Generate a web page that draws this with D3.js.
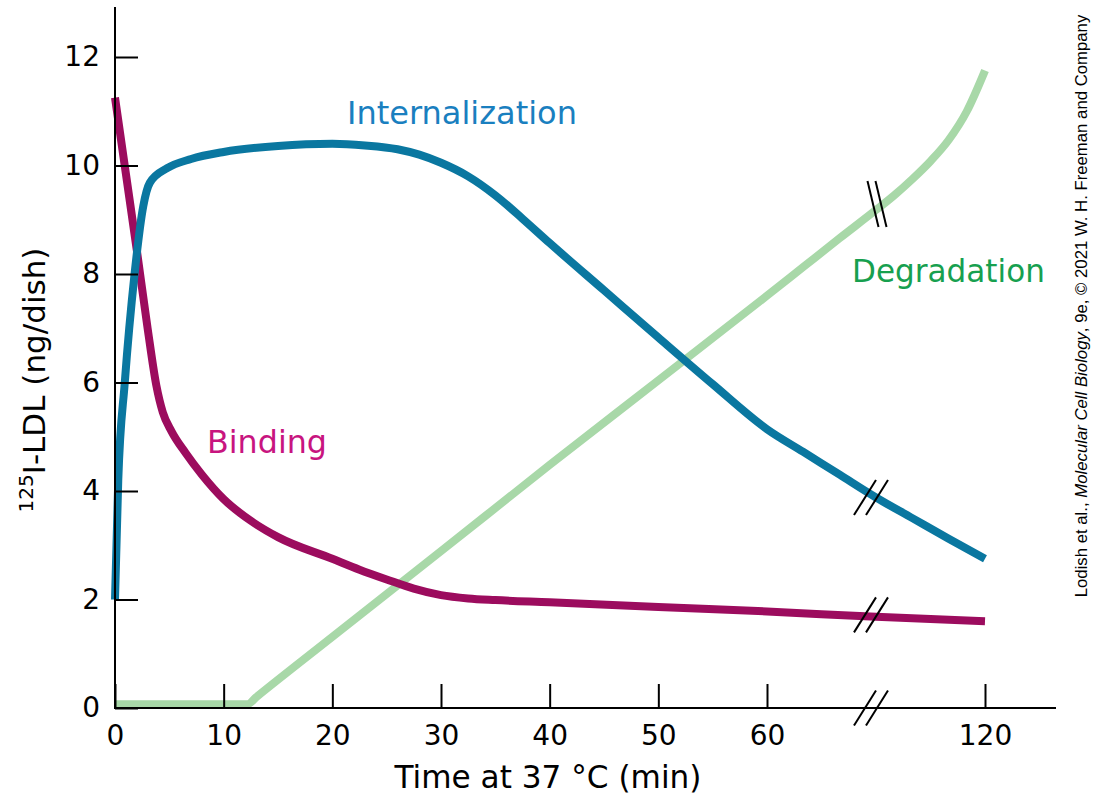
<!DOCTYPE html>
<html><head><meta charset="utf-8">
<script src="https://cdn.jsdelivr.net/npm/d3@7"></script>
<style>
html,body{margin:0;padding:0;background:#fff;}
svg{display:block;}
text{font-family:"DejaVu Sans",sans-serif;}
</style></head>
<body>
<svg id="chart" width="1094" height="809"></svg>
<script>
// ---- data ----
const xTickValues = [0, 10, 20, 30, 40, 50, 60, 120];
const yTickValues = [0, 2, 4, 6, 8, 10, 12];
const breakTime = 90; // axis break drawn between 60 and 120

const bindingTime  = [0, 1, 2, 3, 3.8, 4.4, 5.2, 6.5, 8, 10, 12.5, 15, 20, 22.5, 25, 27.5, 30, 32.5, 35, 40, 50, 60, 90, 120];
const bindingValue = [11.25, 9.85, 8.45, 7.0, 5.95, 5.45, 5.1, 4.7, 4.3, 3.85, 3.45, 3.15, 2.75, 2.55, 2.37, 2.2, 2.08, 2.02, 1.99, 1.95, 1.86, 1.78, 1.68, 1.6];

const internalTime  = [0, 0.3, 0.9, 1.8, 2.6, 3.2, 4.8, 7, 10, 15, 20, 23, 26, 28, 30, 32.5, 35, 37.5, 40, 45, 50, 55, 60, 70, 80, 90, 100, 110, 120];
const internalValue = [2.0, 4.2, 6.0, 8.0, 9.25, 9.68, 9.95, 10.12, 10.25, 10.36, 10.4, 10.37, 10.3, 10.2, 10.05, 9.8, 9.45, 9.02, 8.57, 7.7, 6.83, 5.97, 5.14, 4.72, 4.3, 3.88, 3.5, 3.12, 2.75];

const degradTime  = [0, 12.2, 13, 20, 30, 40, 50, 60, 70, 80, 90, 95, 100, 105, 110, 115, 120];
const degradValue = [0.07, 0.07, 0.2, 1.31, 2.89, 4.48, 6.04, 7.6, 8.13, 8.66, 9.18, 9.45, 9.75, 10.08, 10.47, 11.0, 11.75];

const seriesNames = ["Internalization", "Binding", "Degradation"];

// ---- drawing ----
const svg = d3.select("#chart");
const x = d3.scaleLinear().domain([0, 60, 120]).range([115, 767, 985]);
const y = d3.scaleLinear().domain([0, 12]).range([708, 57]);

const lineGen = d3.line().x(d => x(d[0])).y(d => y(d[1])).curve(d3.curveMonotoneX);
const zip = (a, b) => a.map((t, i) => [t, b[i]]);

const degradData = zip(degradTime, degradValue);
const bindingData = zip(bindingTime, bindingValue);
const internalData = zip(internalTime, internalValue);

svg.append("path").datum(degradData).attr("d", lineGen)
  .attr("fill", "none").attr("stroke", "#a8d8a8").attr("stroke-width", 8);
svg.append("path").datum(bindingData).attr("d", lineGen)
  .attr("fill", "none").attr("stroke", "#9c0c5e").attr("stroke-width", 8);
svg.append("path").datum(internalData).attr("d", lineGen)
  .attr("fill", "none").attr("stroke", "#0a77a0").attr("stroke-width", 8);

// axes
const yAxis = d3.axisLeft(y).tickValues(yTickValues).tickSizeInner(-23).tickSizeOuter(0).tickPadding(15).tickFormat(d3.format("d"));
const gy = svg.append("g").attr("transform", `translate(${x(0)},0)`).call(yAxis);
const xAxis = d3.axisBottom(x).tickValues(xTickValues).tickSizeInner(-24).tickSizeOuter(0).tickPadding(17).tickFormat(d3.format("d"));
const gx = svg.append("g").attr("transform", `translate(0,${y(0)})`).call(xAxis);
[gx, gy].forEach(g => {
  g.select(".domain").remove();
  g.selectAll(".tick line").attr("stroke", "#000").attr("stroke-width", 2);
  g.selectAll(".tick text").attr("fill", "#000").style("font-size", "28px").style("font-family", "DejaVu Sans");
});
svg.append("line").attr("x1", x(0)).attr("x2", x(0)).attr("y1", y(0) + 1).attr("y2", 7)
  .attr("stroke", "#000").attr("stroke-width", 2);
svg.append("line").attr("x1", x(0) - 1).attr("x2", 1056).attr("y1", y(0)).attr("y2", y(0))
  .attr("stroke", "#000").attr("stroke-width", 2);

// axis break marks
function interp(ts, vs, t) { return d3.scaleLinear().domain(ts).range(vs)(t); }
function breakMark(cx, cy, dx, dy, sep) {
  [-sep / 2, sep / 2].forEach(o => {
    svg.append("line")
      .attr("x1", cx + o - dx).attr("y1", cy - dy)
      .attr("x2", cx + o + dx).attr("y2", cy + dy)
      .attr("stroke", "#000").attr("stroke-width", 2);
  });
}
const bx = x(breakTime);
breakMark(bx - 5, y(0), 11, -17.5, 12);
breakMark(bx - 5, y(interp(bindingTime, bindingValue, breakTime)) - 2, 11, -17.5, 12);
breakMark(bx - 5, y(interp(internalTime, internalValue, breakTime)), 11, -17.5, 12);
breakMark(bx + 1, y(interp(degradTime, degradValue, breakTime)) - 6, 5.5, 23, 8);

// fit helper
function fit(sel, w) {
  const L = sel.node().getComputedTextLength();
  const fs = parseFloat(sel.style("font-size"));
  sel.style("font-size", (fs * w / L) + "px");
}

// series labels
const lab1 = svg.append("text").attr("x", 347).attr("y", 124).attr("fill", "#1a7fbf").style("font-size", "31px").text(seriesNames[0]);
fit(lab1, 230);
const lab2 = svg.append("text").attr("x", 207).attr("y", 453).attr("fill", "#c8157f").style("font-size", "31px").text(seriesNames[1]);
fit(lab2, 120);
const lab3 = svg.append("text").attr("x", 852).attr("y", 282).attr("fill", "#17a04f").style("font-size", "31px").text(seriesNames[2]);
fit(lab3, 193);

// axis titles
const xt = svg.append("text").attr("x", 548).attr("y", 788).attr("text-anchor", "middle").attr("fill", "#000")
  .style("font-size", "31px").text("Time at 37 \u00B0C (min)");
fit(xt, 307);

const yt = svg.append("text").attr("transform", "translate(45,380) rotate(-90)").attr("text-anchor", "middle").attr("fill", "#000")
  .style("font-size", "31px");
yt.append("tspan").style("font-size", "20px").attr("dy", -12).text("125");
yt.append("tspan").attr("dy", 12).text("I-LDL (ng/dish)");

// credit
const cr = svg.append("text").attr("transform", "translate(1087,306) rotate(-90)").attr("text-anchor", "middle").attr("fill", "#000")
  .style("font-size", "16px").style("font-family", "Liberation Sans");
cr.append("tspan").text("Lodish et al., ");
cr.append("tspan").style("font-style", "italic").text("Molecular Cell Biology");
cr.append("tspan").text(", 9e, \u00A9 2021 W. H. Freeman and Company");
fit(cr, 583);
</script>
</body></html>
